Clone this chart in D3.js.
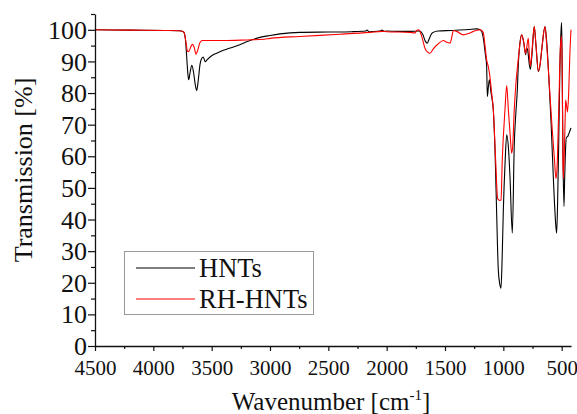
<!DOCTYPE html>
<html>
<head>
<meta charset="utf-8">
<script src="https://cdn.jsdelivr.net/npm/d3@7"></script>
<style>
  body { margin: 0; background: #fff; }
  svg text { font-family: "Liberation Serif", "Times New Roman", serif; fill: #111; }
</style>
</head>
<body>
<div id="chart"></div>
<script>
const width = 577, height = 414;
const serif = "'Liberation Serif', 'Times New Roman', serif";

// wavenumbers (cm-1) and transmission (%)
const hntsWn = [4500, 4200, 3900, 3780, 3760, 3740, 3725, 3715, 3705, 3697, 3685, 3670, 3655, 3640, 3628, 3615, 3600, 3585, 3572, 3555, 3540, 3500, 3457, 3400, 3320, 3258, 3200, 3086, 3000, 2914, 2743, 2500, 2300, 2180, 2170, 2150, 2060, 2040, 2020, 2000, 1900, 1800, 1720, 1690, 1670, 1652, 1635, 1610, 1560, 1450, 1300, 1229, 1200, 1186, 1170, 1155, 1143, 1137, 1128, 1120, 1105, 1086, 1070, 1058, 1043, 1030, 1020, 1010, 1000, 985, 971, 955, 943, 923, 906, 894, 880, 871, 860, 843, 825, 809, 800, 792, 777, 768, 755, 735, 720, 700, 685, 670, 643, 630, 610, 590, 570, 550, 543, 535, 525, 515, 505, 500, 495, 488, 480, 475, 468, 460, 449, 440, 430, 420];
const hntsT = [100, 99.9, 99.8, 99.7, 99.6, 99.3, 97, 92, 86.5, 84.2, 86.5, 88.8, 86.5, 82.5, 80.8, 84, 89, 91, 91.4, 89.9, 90.5, 91.8, 92.6, 93.5, 94.5, 95.3, 96.2, 97.6, 98.2, 98.7, 99.2, 99.3, 99.4, 99.6, 99.9, 99.4, 99.6, 99.9, 99.5, 99.6, 99.5, 99.5, 99.6, 98.5, 96.5, 95.8, 97.2, 99, 99.6, 99.8, 100.1, 100.3, 100, 99.5, 97, 92.5, 88.4, 78.9, 82, 84.2, 80, 74.7, 60, 43, 24, 19.5, 18.3, 28, 43, 58, 66.8, 62, 53.6, 35.7, 64, 73, 81, 89.5, 95, 98.4, 96, 92.1, 94.2, 93.7, 89, 87.5, 92, 101, 95, 86.8, 89, 94, 101, 97, 85, 70, 52, 38, 35.7, 45, 65, 88, 100, 102.3, 85, 58, 44.1, 52, 61, 66, 66.2, 67, 68, 69];

const rhWn = [4500, 4200, 3900, 3780, 3755, 3735, 3720, 3708, 3697, 3680, 3665, 3650, 3635, 3620, 3600, 3580, 3400, 3200, 3050, 3000, 2743, 2400, 2143, 2040, 2000, 1800, 1757, 1743, 1725, 1700, 1670, 1645, 1629, 1600, 1560, 1514, 1486, 1457, 1440, 1429, 1400, 1343, 1300, 1257, 1200, 1186, 1171, 1157, 1143, 1129, 1118, 1100, 1086, 1066, 1049, 1040, 1030, 1020, 1009, 986, 971, 957, 940, 929, 920, 906, 894, 871, 843, 825, 809, 786, 777, 768, 755, 735, 720, 700, 685, 670, 643, 630, 610, 580, 560, 549, 540, 525, 510, 500, 495, 490, 486, 480, 470, 466, 458, 450, 440, 430, 420];
const rhT = [100, 99.9, 99.8, 99.7, 99.6, 99, 96, 93.3, 93.1, 94.5, 95.4, 94.5, 92.3, 93.5, 96, 96.6, 96.6, 96.8, 97, 97.3, 97.9, 98.6, 99.2, 99.5, 99.4, 99.2, 99, 99.8, 100, 98, 94, 92.8, 92.6, 94, 95.5, 96.6, 96.1, 95.8, 98, 99.8, 99.5, 98.4, 98.8, 99.5, 100, 99.8, 99, 95, 90.5, 88.4, 86, 80, 74.7, 58.9, 46.7, 46.2, 46, 46.2, 58.9, 74.7, 82.4, 74.7, 66, 61, 63, 75, 82, 91, 98.4, 96, 92.5, 97.3, 92, 88.5, 93, 101, 95, 87, 89, 94, 101, 96, 85, 68, 58, 53, 56, 75, 95, 98, 85, 62, 53, 58, 72, 77.8, 76, 74, 80, 92, 100];

const seriesNames = ["HNTs", "RH-HNTs"];
const seriesColors = ["#000000", "#ff0000"];
const xMajor = [4500, 4000, 3500, 3000, 2500, 2000, 1500, 1000, 500];
const xMinor = [4250, 3750, 3250, 2750, 2250, 1750, 1250, 750];
const yMajor = [0, 10, 20, 30, 40, 50, 60, 70, 80, 90, 100];
const yMinor = [5, 15, 25, 35, 45, 55, 65, 75, 85, 95, 105];

const x = d3.scaleLinear().domain([4500, 420]).range([95, 571]);
const y = d3.scaleLinear().domain([0, 105]).range([346, 14]);

const svg = d3.select("#chart").append("svg")
    .attr("width", width)
    .attr("height", height)
    .attr("font-family", serif);

const series = [
    { name: seriesNames[0], color: seriesColors[0], pts: hntsWn.map((w, i) => [w, hntsT[i]]) },
    { name: seriesNames[1], color: seriesColors[1], pts: rhWn.map((w, i) => [w, rhT[i]]) }
];

const line = d3.line()
    .x(d => x(d[0]))
    .y(d => y(d[1]))
    .curve(d3.curveMonotoneX);

// black first, red drawn on top
svg.selectAll("path.spec")
    .data(series)
    .enter().append("path")
    .attr("class", "spec")
    .attr("d", s => line(s.pts))
    .attr("fill", "none")
    .attr("stroke", s => s.color)
    .attr("stroke-width", 1.1)
    .attr("stroke-linejoin", "round");

// x axis
const xAxis = svg.append("g").attr("transform", "translate(0,346)");
xAxis.call(d3.axisBottom(x).tickValues(xMajor).tickSize(5).tickSizeOuter(0).tickFormat(d3.format("d")));
xAxis.append("g").call(d3.axisBottom(x).tickValues(xMinor).tickSize(3).tickFormat(""))
    .select(".domain").remove();
xAxis.attr("font-family", serif);
xAxis.selectAll("text")
    .attr("y", 29).attr("dy", 0)
    .style("font-family", serif)
    .style("font-size", "21px");

// y axis
const yAxis = svg.append("g").attr("transform", "translate(95,0)");
yAxis.call(d3.axisLeft(y).tickValues(yMajor).tickSize(7).tickPadding(1).tickSizeOuter(0));
yAxis.append("g").call(d3.axisLeft(y).tickValues(yMinor).tickSize(4).tickFormat(""))
    .select(".domain").remove();
yAxis.attr("font-family", serif);
yAxis.selectAll("text")
    .attr("dy", "0.33em")
    .style("font-family", serif)
    .style("font-size", "26px");

svg.selectAll(".domain").attr("stroke", "#111").attr("stroke-width", 1.3);
svg.selectAll(".tick line").attr("stroke", "#111").attr("stroke-width", 1.2);

// axis titles
svg.append("text")
    .attr("transform", "translate(32,170) rotate(-90)")
    .attr("text-anchor", "middle")
    .style("font-size", "26px")
    .text("Transmission [%]");

const xt = svg.append("text")
    .attr("x", 331).attr("y", 410)
    .attr("text-anchor", "middle")
    .style("font-size", "25px");
xt.append("tspan").text("Wavenumber [cm");
xt.append("tspan").attr("dy", -10).style("font-size", "15px").text("-1");
xt.append("tspan").attr("dy", 10).text("]");

// legend
const legend = svg.append("g");
legend.append("rect")
    .attr("x", 124.5).attr("y", 251.5)
    .attr("width", 189).attr("height", 63)
    .attr("fill", "#fff")
    .attr("stroke", "#999")
    .attr("stroke-width", 1);

series.forEach((s, i) => {
    const ly = 268 + i * 31;
    legend.append("line")
        .attr("x1", 136).attr("x2", 195)
        .attr("y1", ly).attr("y2", ly)
        .attr("stroke", s.color)
        .attr("stroke-width", 1);
    legend.append("text")
        .attr("x", 199).attr("y", ly + 9)
        .style("font-size", "26.5px")
        .text(s.name);
});
</script>
</body>
</html>
